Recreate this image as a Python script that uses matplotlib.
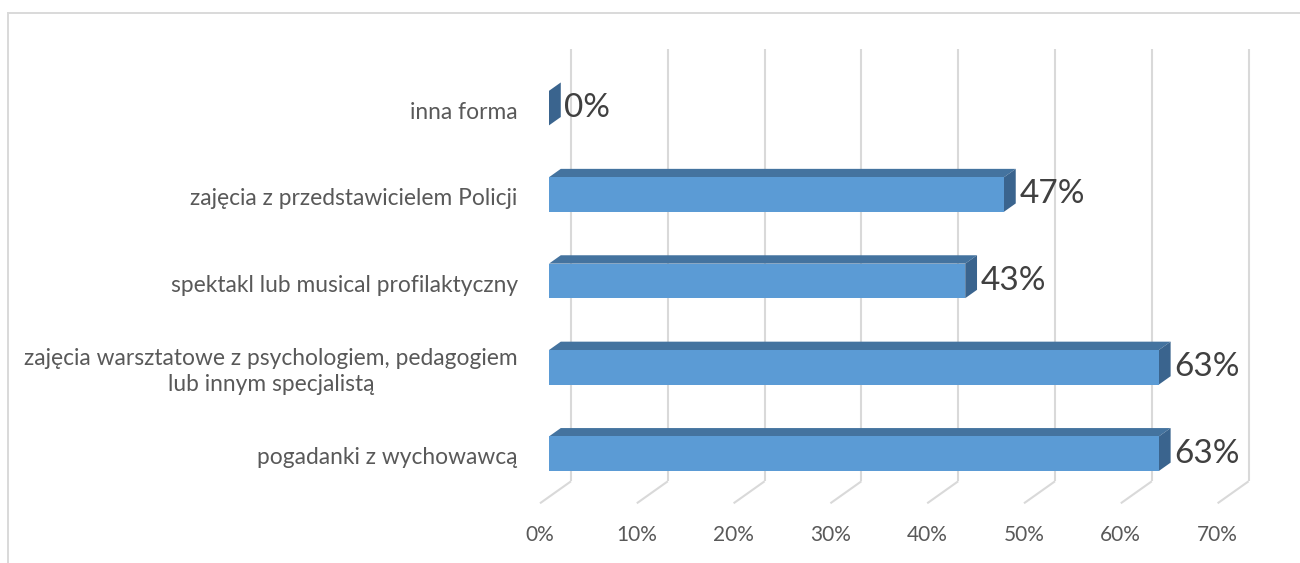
import matplotlib.pyplot as plt
from matplotlib.patches import Polygon, Rectangle
from matplotlib.lines import Line2D

plt.rcParams['font.family'] = ['Lato', 'DejaVu Sans']

# data (bottom to top)
categories = [
    'pogadanki z wychowawcą',
    'zajęcia warsztatowe z psychologiem, pedagogiem\nlub innym specjalistą',
    'spektakl lub musical profilaktyczny',
    'zajęcia z przedstawicielem Policji',
    'inna forma',
]
values = [63, 63, 43, 47, 0]
ticks = [0, 10, 20, 30, 40, 50, 60, 70]

# layout (pixels at 100 dpi)
W, H = 1300, 563
PX_X = 9.68      # px per percent
PX_Y = 86.4      # px per category
X0 = 549         # px of 0% on bar front plane
Y0 = 109.3       # px from bottom of first bar centre
DEPTH_DX = 31 / PX_X
DEPTH_DY = 22 / PX_Y
D_FRONT, D_BACK = 0.29, 0.67
HALF = 0.2

front_col = '#5b9bd5'
top_col = '#44739f'
side_col = '#3a648e'
grid_col = '#d9d9d9'
text_col = '#595959'


def P(v, y, d):
    return (v + (d - D_FRONT) * DEPTH_DX, y + (d - D_FRONT) * DEPTH_DY)


fig = plt.figure(figsize=(W / 100, H / 100), dpi=100)
ax = fig.add_axes([0, 0, 1, 1])
ax.set_xlim(-X0 / PX_X, (W - X0) / PX_X)
ax.set_ylim(-Y0 / PX_Y, (H - Y0) / PX_Y)
ax.axis('off')

# outer border (left and top)
fig.add_artist(Line2D([7.5 / W, 7.5 / W], [0, 1 - 12.5 / H], color=grid_col, lw=1.4,
                      transform=fig.transFigure))
fig.add_artist(Line2D([7.5 / W, 1], [1 - 12.5 / H, 1 - 12.5 / H], color=grid_col, lw=1.4,
                      transform=fig.transFigure))

y_lo, y_hi = -0.5, len(categories) - 0.5

# gridlines: back wall + floor
for t in ticks:
    b = P(t, y_lo, 1)
    top = P(t, y_hi, 1)
    f = P(t, y_lo, 0)
    ax.plot([b[0], top[0]], [b[1], top[1]], color=grid_col, lw=1.5, zorder=1,
            solid_capstyle='butt')
    ax.plot([b[0], f[0]], [b[1], f[1]], color=grid_col, lw=1.5, zorder=1,
            solid_capstyle='butt')
    ax.annotate(f'{t}%', xy=f, xytext=(0, -23), textcoords='offset points',
                ha='center', va='center', fontsize=15, color=text_col)

# bars
for i, (cat, v) in enumerate(zip(categories, values)):
    y1, y2 = i - HALF, i + HALF
    top = [P(0, y2, D_FRONT), P(v, y2, D_FRONT), P(v, y2, D_BACK), P(0, y2, D_BACK)]
    side = [P(v, y1, D_FRONT), P(v, y2, D_FRONT), P(v, y2, D_BACK), P(v, y1, D_BACK)]
    ax.add_patch(Polygon(top, closed=True, facecolor=top_col, edgecolor='none', zorder=2))
    ax.add_patch(Polygon(side, closed=True, facecolor=side_col, edgecolor='none', zorder=2))
    ax.add_patch(Rectangle((0, y1), v, y2 - y1, facecolor=front_col, edgecolor='none', zorder=3))

    xr = P(v, i, D_BACK)[0]
    ax.annotate(f'{v}%', xy=(xr, i), xytext=(2.5, 0), textcoords='offset points',
                ha='left', va='center', fontsize=24, color='#404040', zorder=4)

    ax.annotate(cat, xy=(0, i), xytext=(-22.5, -3), textcoords='offset points',
                ha='right', va='center', multialignment='center',
                fontsize=16.4, color=text_col, linespacing=1.3)

fig.savefig('out.png', dpi=100)
